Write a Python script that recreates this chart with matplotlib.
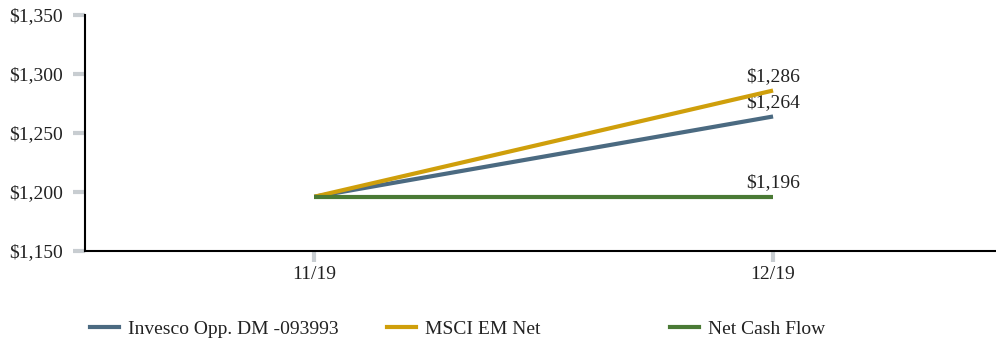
import matplotlib
matplotlib.use("Agg")
import matplotlib.pyplot as plt
from matplotlib.lines import Line2D

plt.rcParams['font.family'] = ['Liberation Serif', 'DejaVu Serif']

periods = ["11/19", "12/19"]
invesco = [1196, 1264]
msci = [1196, 1286]
net_cash = [1196, 1196]
series_names = ["Invesco Opp. DM -093993", "MSCI EM Net", "Net Cash Flow"]
colors = ["#4b6a81", "#cf9f0b", "#4a7a35"]
yticks = [1150, 1200, 1250, 1300, 1350]

FS = 14
TXT = '#222222'

fig = plt.figure(figsize=(9.96, 3.44), dpi=100)
ax = fig.add_axes([85/996, 1 - 251/344, (996-85)/996, (251-15)/344])

x = list(range(len(periods)))
for vals, c in zip([invesco, msci, net_cash], colors):
    ax.plot(x, vals, color=c, lw=3, solid_capstyle='butt', zorder=3)
    ax.annotate(f"${vals[-1]:,}", (x[-1], vals[-1]), xytext=(0, 4),
                textcoords='offset points', ha='center', va='bottom',
                fontsize=FS, color=TXT)

ax.set_xlim(-0.5, 1.486)
ax.set_ylim(1150, 1350)
ax.set_xticks(x)
ax.set_xticklabels(periods)
ax.set_yticks(yticks)
ax.set_yticklabels([f"${v:,}" for v in yticks])

for s in ['top', 'right']:
    ax.spines[s].set_visible(False)
for s in ['left', 'bottom']:
    ax.spines[s].set_linewidth(1.5)
    ax.spines[s].set_color('black')

ax.tick_params(axis='y', length=9, width=3, color='#c8cdd1', pad=7,
               labelsize=FS, labelcolor=TXT)
ax.tick_params(axis='x', length=8, width=3, color='#c8cdd1', pad=3,
               labelsize=FS, labelcolor=TXT)

# legend entries at fixed horizontal positions
legend_x = [84, 381, 664]
for name, c, lx in zip(series_names, colors, legend_x):
    leg = fig.legend([Line2D([0], [0], color=c, lw=3)], [name],
                     loc='center left', bbox_to_anchor=(lx/996, 1 - 329/344),
                     frameon=False, fontsize=FS, handlelength=1.5,
                     handletextpad=0.45, borderaxespad=0, borderpad=0.3)
    for t in leg.get_texts():
        t.set_color(TXT)

fig.savefig("out.png", dpi=100)
